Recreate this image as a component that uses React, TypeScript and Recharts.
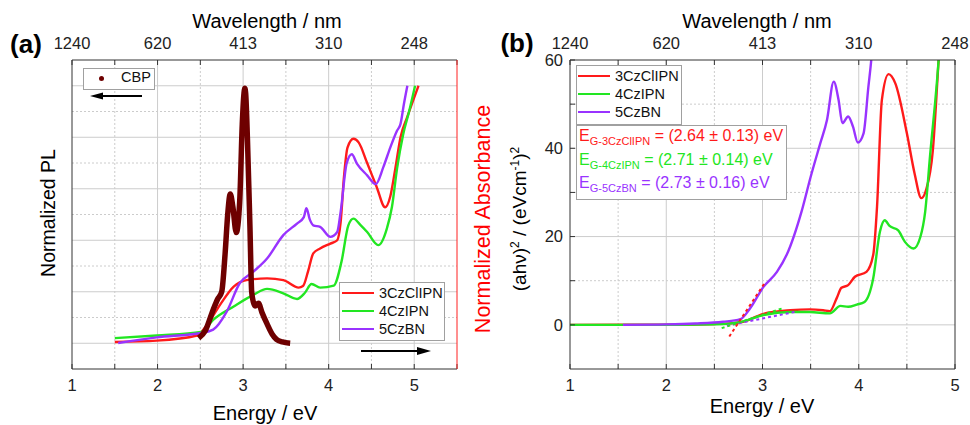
import React from "react";
import { LineChart, Line, XAxis, YAxis, ReferenceLine } from "recharts";

const FONT = '"Liberation Sans", Arial, Helvetica, sans-serif';
const RED = "#ff1a1a";
const GREEN = "#22e622";
const PURPLE = "#9933ff";
const CBP_COLOR = "#6e0000";
const GRID = "#cccccc";
const AXIS = "#333";

// axis ticks
const ENERGY_TICKS = [1, 2, 3, 4, 5];
const WAVELENGTH_LABELS = ["1240", "620", "413", "310", "248"];
const A_X_TICKS = [1, 1.5, 2, 2.5, 3, 3.5, 4, 4.5, 5, 5.5];
const B_X_TICKS = [1, 1.5, 2, 2.5, 3, 3.5, 4, 4.5, 5];
const A_Y_TICKS = [0, 0.1, 0.2, 0.3, 0.4, 0.5, 0.6, 0.7, 0.8, 0.9, 1.0];
const B_Y_TICKS = [0, 10, 20, 30, 40, 50, 60];

// grid lines
const A_MAJOR_X = [2, 3, 4, 5];
const A_MINOR_X = [1.5, 2.5, 3.5, 4.5];
const A_MAJOR_Y = [0, 0.2, 0.4, 0.6, 0.8, 1.0];
const A_MINOR_Y = [0.1, 0.3, 0.5, 0.7, 0.9];
const B_MAJOR_X = [2, 3, 4];
const B_MINOR_X = [1.5, 2.5, 3.5, 4.5];
const B_MAJOR_Y = [0, 20, 40];
const B_MINOR_Y = [10, 30, 50];

// (a) CBP photoluminescence
const CBP_E = [2.48, 2.56, 2.65, 2.7, 2.75, 2.79, 2.82, 2.85, 2.88, 2.92, 2.96, 2.99, 3.01, 3.02, 3.03, 3.05, 3.08, 3.1, 3.12, 3.14, 3.18, 3.22, 3.28, 3.34, 3.39, 3.46, 3.55];
const CBP_PL = [0.02, 0.05, 0.13, 0.17, 0.2, 0.35, 0.5, 0.58, 0.53, 0.43, 0.55, 0.85, 0.97, 0.99, 0.97, 0.8, 0.45, 0.2, 0.16, 0.145, 0.155, 0.12, 0.075, 0.035, 0.015, 0.005, 0.0];

// (a) normalized absorbance
const A_3CZ_E = [1.5, 1.99, 2.46, 2.58, 2.73, 2.89, 3.04, 3.28, 3.47, 3.65, 3.7, 3.76, 3.82, 3.9, 4.02, 4.1, 4.14, 4.18, 4.22, 4.29, 4.35, 4.45, 4.56, 4.66, 4.72, 4.78, 4.84, 4.92, 5.05];
const A_3CZ_V = [0.005, 0.01, 0.03, 0.072, 0.149, 0.22, 0.245, 0.252, 0.245, 0.216, 0.222, 0.28, 0.349, 0.368, 0.387, 0.4, 0.47, 0.65, 0.76, 0.794, 0.78, 0.7, 0.608, 0.528, 0.57, 0.68, 0.8, 0.88, 1.0];
const A_4CZ_E = [1.5, 1.99, 2.51, 2.65, 2.89, 3.12, 3.28, 3.47, 3.63, 3.72, 3.8, 3.9, 4.06, 4.15, 4.23, 4.29, 4.37, 4.45, 4.58, 4.68, 4.74, 4.8, 4.87, 4.94, 5.01];
const A_4CZ_V = [0.02, 0.03, 0.044, 0.091, 0.143, 0.188, 0.211, 0.194, 0.172, 0.195, 0.23, 0.216, 0.224, 0.317, 0.458, 0.484, 0.46, 0.432, 0.381, 0.445, 0.53, 0.68, 0.81, 0.9, 1.0];
const A_5CZ_E = [1.54, 1.99, 2.51, 2.65, 2.81, 2.96, 3.12, 3.28, 3.47, 3.63, 3.71, 3.74, 3.78, 3.82, 3.9, 4.02, 4.1, 4.14, 4.21, 4.27, 4.33, 4.45, 4.55, 4.64, 4.72, 4.8, 4.84, 4.88, 4.92];
const A_5CZ_V = [0.001, 0.023, 0.04, 0.053, 0.124, 0.233, 0.278, 0.329, 0.42, 0.465, 0.49, 0.524, 0.48, 0.458, 0.452, 0.413, 0.432, 0.51, 0.698, 0.734, 0.698, 0.652, 0.618, 0.685, 0.76, 0.826, 0.852, 0.93, 1.0];

// (b) Tauc plot
const B_3CZ_E = [1.0, 2.0, 2.5, 2.7, 2.8, 3.01, 3.29, 3.49, 3.63, 3.7, 3.77, 3.82, 3.89, 3.96, 4.08, 4.15, 4.19, 4.24, 4.31, 4.38, 4.5, 4.58, 4.65, 4.7, 4.77, 4.83, 4.86];
const B_3CZ_V = [0, 0.05, 0.2, 0.4, 0.7, 2.5, 3.3, 3.5, 3.3, 3.1, 6.0, 8.4, 9.0, 10.9, 12, 15.8, 26.8, 50.9, 56.8, 54.7, 43.4, 34.3, 28.7, 30.6, 39.6, 60, 70];
const B_4CZ_E = [1.0, 2.0, 2.5, 2.8, 3.01, 3.29, 3.49, 3.7, 3.81, 3.89, 3.98, 4.06, 4.15, 4.22, 4.27, 4.32, 4.41, 4.48, 4.57, 4.64, 4.69, 4.74, 4.83, 4.86];
const B_4CZ_V = [0, 0, 0.1, 0.8, 2.2, 2.9, 2.9, 2.6, 4.3, 4.1, 4.6, 5.2, 10.5, 21.1, 23.7, 22.4, 21.4, 18.8, 17.3, 19.9, 25.6, 38.1, 60, 70];
const B_5CZ_E = [1.55, 2.0, 2.3, 2.59, 2.77, 2.87, 3.01, 3.15, 3.25, 3.41, 3.5, 3.6, 3.67, 3.74, 3.79, 3.83, 3.89, 3.94, 3.99, 4.05, 4.1, 4.13, 4.17];
const B_5CZ_V = [0, 0.1, 0.3, 0.7, 1.3, 3.7, 8.6, 12, 15.8, 26, 33.5, 41.1, 46.4, 55.1, 51, 45.7, 47.2, 44.9, 41.3, 43.4, 53.9, 60, 72];

// (b) linear fits near the band edge
const FIT_3CZ_E = [2.655, 3.02];
const FIT_3CZ_V = [-2.65, 9.4];
const FIT_4CZ_E = [2.576, 3.2];
const FIT_4CZ_V = [-0.75, 3.7];
const FIT_5CZ_E = [2.63, 3.35];
const FIT_5CZ_V = [-0.2, 3.0];

const zip = (xs: number[], ys: number[]) => xs.map((x, i) => ({ x, y: ys[i] }));

const tickStyle = { fontSize: 16.5, fill: "#222", fontFamily: FONT };
const halfBlank = (v: number) => (Number.isInteger(v) ? String(v) : "");
const toWavelength = (v: number) => {
    const i = ENERGY_TICKS.indexOf(v);
    return i >= 0 ? WAVELENGTH_LABELS[i] : "";
};

function gridLines(majorX: number[], minorX: number[], majorY: number[], minorY: number[], xId: string, yId: string) {
    return [
        ...minorX.map(v => <ReferenceLine key={"mx" + v} x={v} xAxisId={xId} yAxisId={yId} stroke={GRID} strokeDasharray="2 2" />),
        ...minorY.map(v => <ReferenceLine key={"my" + v} y={v} xAxisId={xId} yAxisId={yId} stroke={GRID} strokeDasharray="2 2" />),
        ...majorX.map(v => <ReferenceLine key={"Mx" + v} x={v} xAxisId={xId} yAxisId={yId} stroke={GRID} />),
        ...majorY.map(v => <ReferenceLine key={"My" + v} y={v} xAxisId={xId} yAxisId={yId} stroke={GRID} />),
    ];
}

function Txt({ x, y, children, style }: { x: number; y: number; children: React.ReactNode; style?: React.CSSProperties }) {
    return (
        <div style={{ position: "absolute", left: x, top: y, transform: "translate(-50%, -50%)", whiteSpace: "nowrap", fontFamily: FONT, ...style }}>
            {children}
        </div>
    );
}

function LegendRow({ x, y, color, label }: { x: number; y: number; color: string; label: string }) {
    return (
        <div style={{ position: "absolute", left: x, top: y - 10, height: 20, display: "flex", alignItems: "center", fontFamily: FONT, fontSize: 14.5, color: "#111" }}>
            <span style={{ width: 32, height: 2.5, background: color, marginRight: 5 }} />
            {label}
        </div>
    );
}

const sub = { fontSize: 11, verticalAlign: "-4px" } as React.CSSProperties;
const sup = { fontSize: 12, verticalAlign: "7px" } as React.CSSProperties;

function PanelA() {
    return (
        <LineChart width={490} height={425} margin={{ top: 30, right: 23, bottom: 26, left: 62 }}>
            <XAxis xAxisId="b" dataKey="x" type="number" domain={[1, 5.5]} allowDataOverflow ticks={A_X_TICKS} interval={0}
                tickFormatter={halfBlank} tick={tickStyle} height={30} tickSize={-5} tickMargin={15} stroke={AXIS} />
            <XAxis xAxisId="t" orientation="top" dataKey="x" type="number" domain={[1, 5.5]} allowDataOverflow ticks={A_X_TICKS} interval={0}
                tickFormatter={toWavelength} tick={tickStyle} height={30} tickSize={-5} tickMargin={16} stroke={AXIS} />
            <YAxis yAxisId="l" type="number" domain={[-0.1, 1.1]} allowDataOverflow ticks={A_Y_TICKS} interval={0}
                tick={false} width={10} tickSize={-5} stroke={AXIS} />
            <YAxis yAxisId="r" orientation="right" type="number" domain={[-0.1, 1.1]} allowDataOverflow ticks={A_Y_TICKS} interval={0}
                tick={false} width={10} tickSize={-6} stroke="#ff2020" />
            {gridLines(A_MAJOR_X, A_MINOR_X, A_MAJOR_Y, A_MINOR_Y, "b", "l")}
            <Line data={zip(A_3CZ_E, A_3CZ_V)} dataKey="y" xAxisId="b" yAxisId="r" type="monotone" stroke={RED} strokeWidth={2.4} dot={false} isAnimationActive={false} />
            <Line data={zip(A_4CZ_E, A_4CZ_V)} dataKey="y" xAxisId="b" yAxisId="r" type="monotone" stroke={GREEN} strokeWidth={2.4} dot={false} isAnimationActive={false} />
            <Line data={zip(A_5CZ_E, A_5CZ_V)} dataKey="y" xAxisId="b" yAxisId="r" type="monotone" stroke={PURPLE} strokeWidth={2.4} dot={false} isAnimationActive={false} />
            <Line data={zip(CBP_E, CBP_PL)} dataKey="y" xAxisId="b" yAxisId="l" type="monotone" stroke={CBP_COLOR} strokeWidth={5.5} strokeLinejoin="round" dot={false} isAnimationActive={false} />
        </LineChart>
    );
}

function PanelB() {
    return (
        <LineChart width={480} height={425} margin={{ top: 30, right: 10, bottom: 26, left: 40 }}>
            <XAxis xAxisId="b" dataKey="x" type="number" domain={[1, 5]} allowDataOverflow ticks={B_X_TICKS} interval={0}
                tickFormatter={halfBlank} tick={tickStyle} height={30} tickSize={-5} tickMargin={15} stroke={AXIS} />
            <XAxis xAxisId="t" orientation="top" dataKey="x" type="number" domain={[1, 5]} allowDataOverflow ticks={B_X_TICKS} interval={0}
                tickFormatter={toWavelength} tick={tickStyle} height={30} tickSize={-5} tickMargin={16} stroke={AXIS} />
            <YAxis yAxisId="l" type="number" domain={[-10, 60]} allowDataOverflow ticks={B_Y_TICKS} interval={0}
                tickFormatter={(v: number) => (v % 20 === 0 ? String(v) : "")} tick={tickStyle} width={40} tickSize={-5} tickMargin={12} stroke={AXIS} />
            <YAxis yAxisId="r" orientation="right" type="number" domain={[-10, 60]} allowDataOverflow ticks={B_Y_TICKS} interval={0}
                tick={false} width={5} tickSize={-5} stroke={AXIS} />
            {gridLines(B_MAJOR_X, B_MINOR_X, B_MAJOR_Y, B_MINOR_Y, "b", "l")}
            <Line data={zip(B_3CZ_E, B_3CZ_V)} dataKey="y" xAxisId="b" yAxisId="l" type="monotone" stroke={RED} strokeWidth={2.4} dot={false} isAnimationActive={false} />
            <Line data={zip(B_4CZ_E, B_4CZ_V)} dataKey="y" xAxisId="b" yAxisId="l" type="monotone" stroke={GREEN} strokeWidth={2.4} dot={false} isAnimationActive={false} />
            <Line data={zip(B_5CZ_E, B_5CZ_V)} dataKey="y" xAxisId="b" yAxisId="l" type="monotone" stroke={PURPLE} strokeWidth={2.4} dot={false} isAnimationActive={false} />
            <Line data={zip(FIT_5CZ_E, FIT_5CZ_V)} dataKey="y" xAxisId="b" yAxisId="l" type="linear" stroke={PURPLE} strokeWidth={2} strokeDasharray="3 3" dot={false} isAnimationActive={false} />
            <Line data={zip(FIT_4CZ_E, FIT_4CZ_V)} dataKey="y" xAxisId="b" yAxisId="l" type="linear" stroke={GREEN} strokeWidth={2} strokeDasharray="3 3" dot={false} isAnimationActive={false} />
            <Line data={zip(FIT_3CZ_E, FIT_3CZ_V)} dataKey="y" xAxisId="b" yAxisId="l" type="linear" stroke={RED} strokeWidth={2} strokeDasharray="3 3" dot={false} isAnimationActive={false} />
        </LineChart>
    );
}

export default function App() {
    const box: React.CSSProperties = { position: "absolute", border: "1px solid #a0a0a0", background: "#fff" };
    return (
        <div style={{ position: "relative", width: 970, height: 425, background: "#fff", overflow: "hidden", fontFamily: FONT }}>
            <style>{"body{margin:0}"}</style>
            <div style={{ position: "absolute", left: 0, top: 0 }}><PanelA /></div>
            <div style={{ position: "absolute", left: 490, top: 0 }}><PanelB /></div>

            {/* panel (a) texts */}
            <Txt x={26} y={44} style={{ fontSize: 26, fontWeight: "bold" }}>(a)</Txt>
            <Txt x={267} y={21} style={{ fontSize: 20 }}>Wavelength / nm</Txt>
            <Txt x={265} y={413} style={{ fontSize: 20 }}>Energy / eV</Txt>
            <Txt x={48} y={213} style={{ fontSize: 19.5, transform: "translate(-50%, -50%) rotate(-90deg)" }}>Normalized PL</Txt>
            <Txt x={483} y={219} style={{ fontSize: 21.5, color: "#ff0000", transform: "translate(-50%, -50%) rotate(-90deg)" }}>Normalized Absorbance</Txt>

            <div style={{ ...box, left: 83, top: 68, width: 70, height: 20 }} />
            <div style={{ position: "absolute", left: 98.5, top: 75.5, width: 5, height: 5, borderRadius: 3, background: CBP_COLOR }} />
            <div style={{ position: "absolute", left: 121, top: 69, fontSize: 14.5, color: "#111" }}>CBP</div>

            <div style={{ ...box, left: 339, top: 282, width: 104, height: 57 }} />
            <LegendRow x={342} y={293} color={RED} label="3CzClIPN" />
            <LegendRow x={342} y={311} color={GREEN} label="4CzIPN" />
            <LegendRow x={342} y={329} color={PURPLE} label="5CzBN" />

            <svg width={970} height={425} style={{ position: "absolute", left: 0, top: 0, pointerEvents: "none" }}>
                <line x1={142} y1={96} x2={100} y2={96} stroke="#000" strokeWidth={2} />
                <polygon points="90,96 103,92.5 103,99.5" fill="#000" />
                <line x1={361} y1={351} x2={420} y2={351} stroke="#000" strokeWidth={2} />
                <polygon points="431,351 417,347 417,355" fill="#000" />
            </svg>

            {/* panel (b) texts */}
            <Txt x={517} y={43} style={{ fontSize: 26, fontWeight: "bold" }}>(b)</Txt>
            <Txt x={757} y={21} style={{ fontSize: 20 }}>Wavelength / nm</Txt>
            <Txt x={762} y={406} style={{ fontSize: 20 }}>Energy / eV</Txt>
            <Txt x={519} y={219} style={{ fontSize: 19, transform: "translate(-50%, -50%) rotate(-90deg)" }}>
                (ahν)<span style={sup}>2</span> / (eVcm<span style={sup}>-1</span>)<span style={sup}>2</span>
            </Txt>

            <div style={{ ...box, left: 576, top: 65, width: 104, height: 58 }} />
            <LegendRow x={578} y={76} color={RED} label="3CzClIPN" />
            <LegendRow x={578} y={94} color={GREEN} label="4CzIPN" />
            <LegendRow x={578} y={112} color={PURPLE} label="5CzBN" />

            <div style={{ ...box, left: 576, top: 125, width: 209, height: 73 }} />
            <div style={{ position: "absolute", left: 579, top: 127, fontSize: 16, color: RED, whiteSpace: "nowrap" }}>
                E<span style={sub}>G-3CzClIPN</span> = (2.64 ± 0.13) eV
            </div>
            <div style={{ position: "absolute", left: 579, top: 151, fontSize: 16, color: GREEN, whiteSpace: "nowrap" }}>
                E<span style={sub}>G-4CzIPN</span> = (2.71 ± 0.14) eV
            </div>
            <div style={{ position: "absolute", left: 579, top: 174, fontSize: 16, color: PURPLE, whiteSpace: "nowrap" }}>
                E<span style={sub}>G-5CzBN</span> = (2.73 ± 0.16) eV
            </div>
        </div>
    );
}
